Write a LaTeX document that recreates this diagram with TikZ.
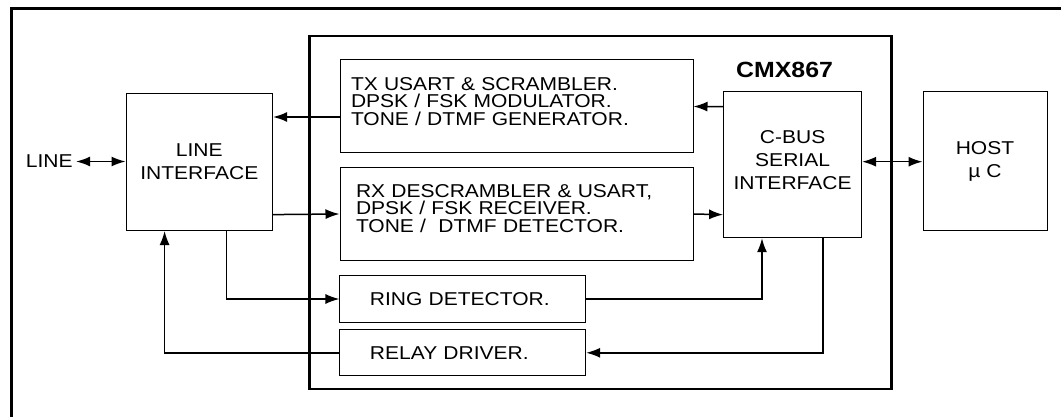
\documentclass[tikz,border=0pt]{standalone}
\usepackage{fontspec}
\setmainfont[FakeStretch=1.13]{Liberation Sans}
\usetikzlibrary{arrows.meta}
\begin{document}
\begin{tikzpicture}[x=1pt,y=-1pt,
  font=\fontsize{18.6}{23}\selectfont,
  >={Latex[length=14pt,width=10pt]},
  blk/.style={draw,line width=1pt,inner sep=0pt,align=center},
  txtblk/.style={blk,align=left,font=\fontsize{18.6}{17.5}\selectfont},
  link/.style={line width=1.5pt}]
\useasboundingbox (0,0) rectangle (1061,417);
\draw [line width=3pt] (11,440) -- (11,9) -- (1090,9);
\node [draw,line width=2.5pt,minimum width=582pt,minimum height=353pt] (v2) at (600.6,212.5) {};
\node (v0) at (49.2,161.5) {LINE};
\node [blk,minimum width=146.6pt,minimum height=137pt] (v1) at (199.3,162) {LINE\\INTERFACE};
\node [font=\fontsize{22}{24}\selectfont\bfseries] (v3) at (784.6,69.6) {CMX867};
\node [txtblk,inner xsep=11pt,text width=331pt,text height=13.3pt,text depth=45.3pt,minimum height=93pt] (v4) at (516.5,106.5) {TX USART \& SCRAMBLER.\\DPSK / FSK MODULATOR.\\TONE / DTMF GENERATOR.};
\node [txtblk,inner xsep=16pt,text width=321pt,text height=13.3pt,text depth=47pt,minimum height=92pt] (v5) at (516.5,214) {RX DESCRAMBLER \& USART,\\DPSK / FSK RECEIVER.\\TONE / \ DTMF DETECTOR.};
\node [txtblk,inner xsep=30pt,text width=185.7pt,minimum height=46.6pt] (v6) at (462.8,299) {RING DETECTOR.};
\node [txtblk,inner xsep=30pt,text width=185.7pt,minimum height=45.7pt] (v7) at (462.8,352.8) {RELAY DRIVER.};
\node [blk,minimum width=138pt,minimum height=146pt,text depth=10pt] (v8) at (792.6,164.7) {C-BUS\\SERIAL\\INTERFACE};
\node [blk,minimum width=124pt,minimum height=139pt] (v9) at (985,161) {HOST\\µ C};
\draw [link,<->] (v0) -- (v0 -| v1.west);
\draw [link,<->] ([yshift=3pt]v8.east) -- ([yshift=3pt]v8.east -| v9.west);
\draw [link,->] ([yshift=-10.5pt]v4.west) -- ([yshift=45pt]v1.east);
\draw [link,->] ([yshift=58pt]v8.west) -- (v4.east);
\draw [link,->] ([yshift=-52.6pt]v1.east) -- (v5.west);
\draw [link,->] (v5.east) -- ([yshift=-50pt]v8.west);
\draw [link,->] ([xshift=27pt]v1.south) |- (v6.west);
\draw [link,->] (v6.east) -| ([xshift=-30.6pt]v8.south);
\draw [link,->] ([xshift=30.4pt]v8.south) |- (v7.east);
\draw [link,->] (v7.west) -| ([xshift=-34.7pt]v1.south);
\end{tikzpicture}
\end{document}
